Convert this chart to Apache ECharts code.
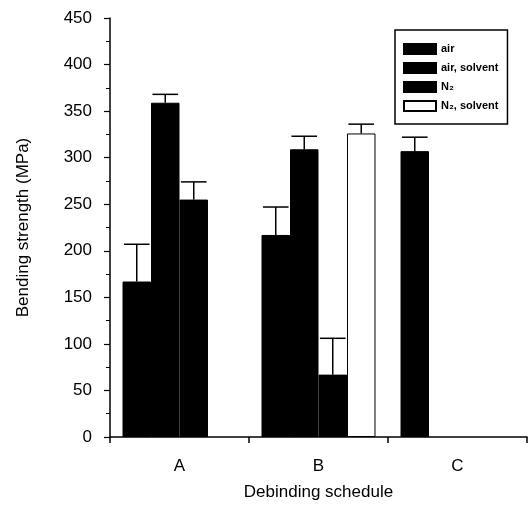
<!DOCTYPE html>
<html><head><meta charset="utf-8">
<script src="https://cdn.jsdelivr.net/npm/echarts@6.0.0/dist/echarts.min.js"></script>
<style>html,body{margin:0;padding:0;background:#fff}#c{width:529px;height:519px}</style>
</head><body><div id="c"></div>
<script>
const categories = ['A', 'B', 'C'];
const seriesNames = ['air', 'air, solvent', 'N₂', 'N₂, solvent'];
const airValues = [167, 217, 307];
const airErrors = [40, 30, 15];
const airSolventValues = [359, 309, null];
const airSolventErrors = [9, 14, null];
const n2Values = [255, 67, null];
const n2Errors = [19, 39, null];
const n2SolventValues = [null, 326, null];
const n2SolventErrors = [null, 10, null];
const yTicks = [0, 450, 50];

const values = [airValues, airSolventValues, n2Values, n2SolventValues];
const errors = [airErrors, airSolventErrors, n2Errors, n2SolventErrors];
const fills = ['#000', '#000', '#000', '#fff'];
const GAP = 0.18;
const NB = 4;

const chart = echarts.init(document.getElementById('c'));
const series = [];
values.forEach((vals, k) => {
  series.push({
    name: seriesNames[k], type: 'bar', data: vals,
    barGap: '0%', barCategoryGap: (GAP * 100) + '%',
    itemStyle: { color: fills[k], borderColor: '#000', borderWidth: 1 },
    silent: true
  });
});
values.forEach((vals, k) => {
  const data = [];
  vals.forEach((v, i) => { if (v != null) data.push([i, v, errors[k][i]]); });
  series.push({
    type: 'custom', data: data, z: 5, silent: true,
    renderItem: function (params, api) {
      const base = api.coord([api.value(0), api.value(1)]);
      const top = api.coord([api.value(0), api.value(1) + api.value(2)]);
      const band = api.size([1, 0])[0];
      const bw = band * (1 - GAP) / NB;
      const x = base[0] - band * (1 - GAP) / 2 + bw * (k + 0.5);
      const half = bw * 0.45;
      const st = { stroke: '#000', lineWidth: 1.5 };
      return { type: 'group', children: [
        { type: 'line', shape: { x1: x, y1: base[1], x2: x, y2: top[1] }, style: st },
        { type: 'line', shape: { x1: x - half, y1: top[1], x2: x + half, y2: top[1] }, style: st }
      ]};
    }
  });
});

chart.setOption({
  animation: false,
  backgroundColor: '#fff',
  textStyle: { fontFamily: 'Liberation Sans, Arial, sans-serif', color: '#000' },
  grid: { left: 110, right: 2, top: 18, bottom: 82 },
  legend: {
    data: seriesNames, orient: 'vertical', left: 395, top: 30,
    icon: 'rect', itemWidth: 32, itemHeight: 10, itemGap: 7,
    borderColor: '#000', borderWidth: 1.5, padding: [13, 9, 12, 8],
    textStyle: { fontSize: 11, fontWeight: 'bold', color: '#000', fontFamily: 'Liberation Sans, Arial, sans-serif' },
    selectedMode: false
  },
  xAxis: {
    type: 'category', data: categories,
    name: 'Debinding schedule', nameLocation: 'middle', nameGap: 47,
    nameTextStyle: { fontSize: 17, color: '#000' },
    axisLine: { lineStyle: { color: '#000', width: 1.5 } },
    axisTick: { show: true, length: 6, lineStyle: { color: '#000', width: 1.5 } },
    axisLabel: { fontSize: 17, color: '#000', margin: 21 },
    splitLine: { show: false }
  },
  yAxis: {
    type: 'value', min: yTicks[0], max: yTicks[1], interval: yTicks[2],
    name: 'Bending strength (MPa)', nameLocation: 'middle', nameGap: 78,
    nameTextStyle: { fontSize: 17, color: '#000' },
    axisLine: { show: true, lineStyle: { color: '#000', width: 1.5 } },
    axisTick: { show: true, length: 6, lineStyle: { color: '#000', width: 1.2 } },
    minorTick: { show: true, splitNumber: 2, length: 4, lineStyle: { color: '#000', width: 1 } },
    axisLabel: { fontSize: 17, color: '#000', margin: 18 },
    splitLine: { show: false }
  },
  series: series
});
</script>
</body></html>
